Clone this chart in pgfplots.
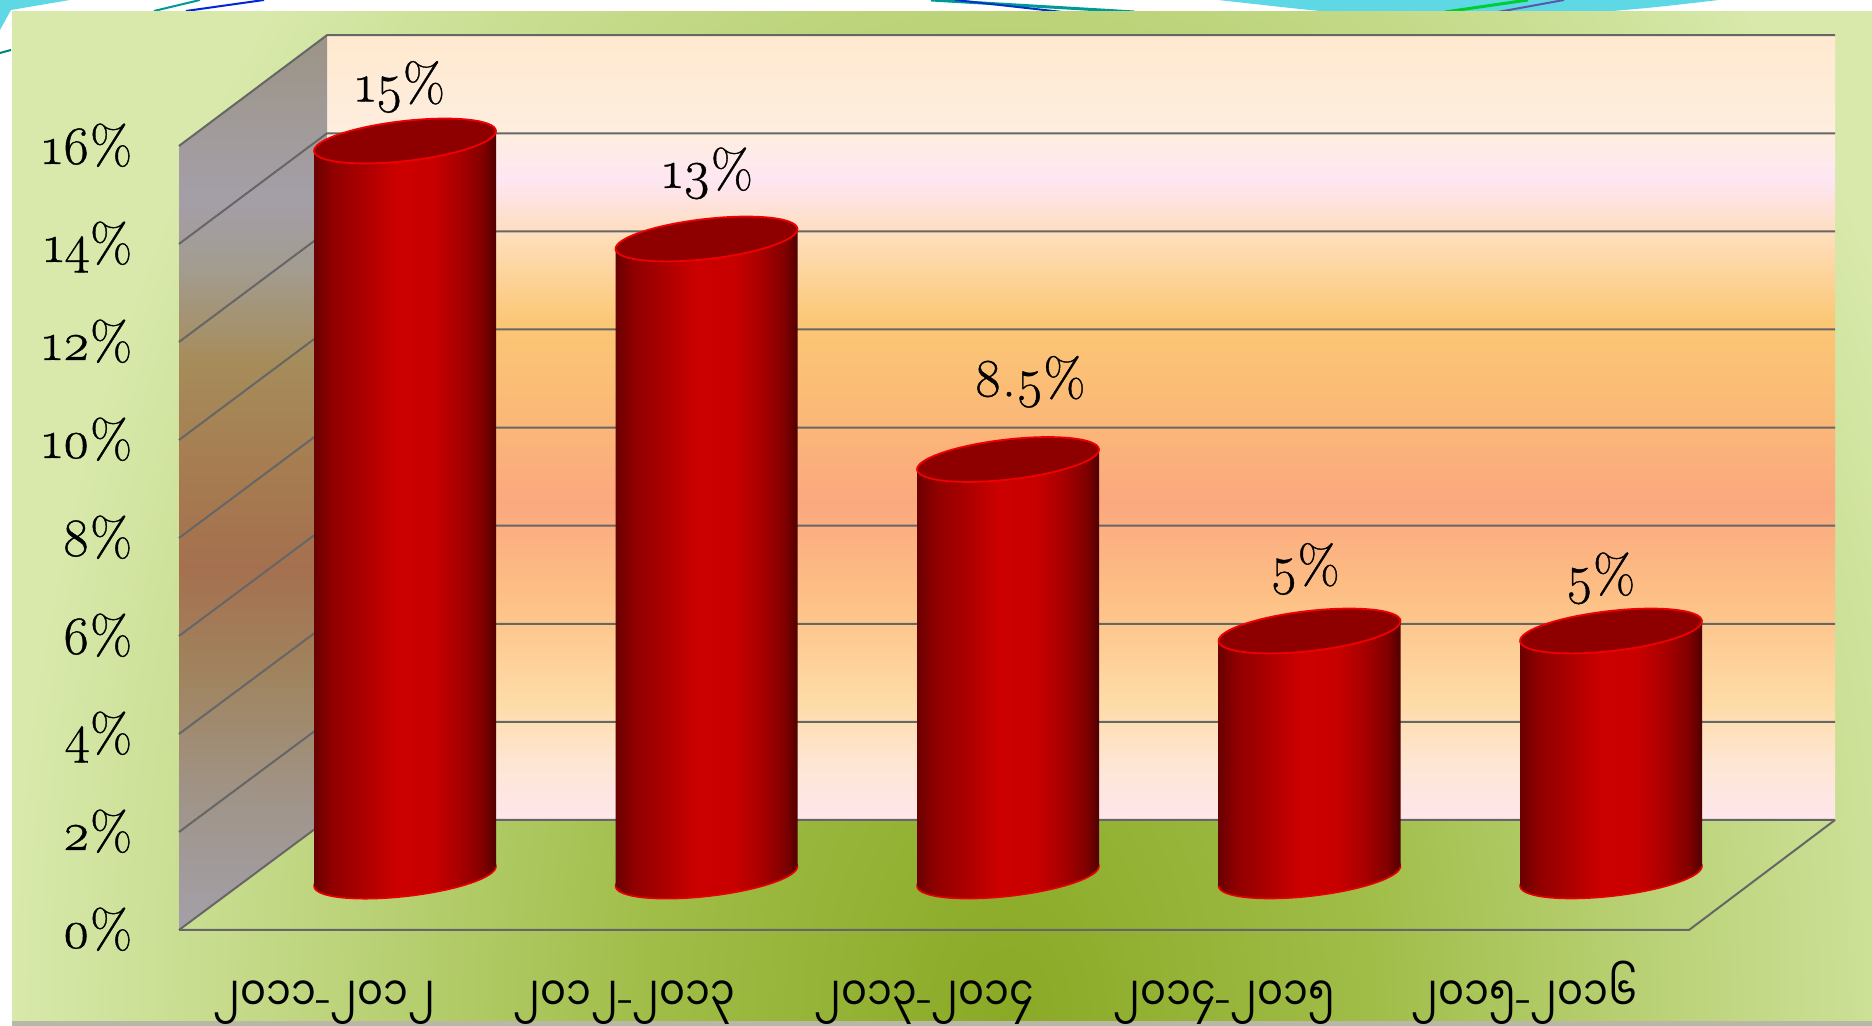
\documentclass[border=0pt]{standalone}
\usepackage{fontspec}
\usepackage{pgfplots}
\usepackage{pgfplotstable}
\pgfplotsset{compat=1.18}
\setmainfont{Latin Modern Roman}[Numbers=OldStyle,FakeBold=0.7]
\newfontfamily\my[Script=Myanmar,FakeStretch=0.83]{Noto Sans Myanmar UI}
\newcommand\yr[2]{{\my #1}-{\my #2}}
\definecolor{wa}{HTML}{FEE6EC}\definecolor{wb}{HTML}{FEE6D4}\definecolor{wc}{HTML}{FEDCA8}
\definecolor{wd}{HTML}{FDC085}\definecolor{we}{HTML}{FBA87F}\definecolor{wf}{HTML}{FBB877}
\definecolor{wg}{HTML}{FBC775}\definecolor{wh}{HTML}{FEDDB8}\definecolor{wi}{HTML}{FEE6F3}
\definecolor{wj}{HTML}{FEEEDF}\definecolor{wk}{HTML}{FFE9CF}
\pgfdeclareverticalshading{wall}{100bp}{color(0bp)=(wa);color(25bp)=(wa);color(28.6bp)=(wb);color(32.4bp)=(wc);color(39.2bp)=(wd);color(45.3bp)=(we);color(50.6bp)=(wf);color(56.7bp)=(wg);color(62bp)=(wh);color(65.8bp)=(wi);color(68.7bp)=(wj);color(75bp)=(wk);color(100bp)=(wk)}
\definecolor{sa}{HTML}{A3A0AA}\definecolor{sb}{HTML}{A09488}\definecolor{sc}{HTML}{A0845F}
\definecolor{sd}{HTML}{A5704F}\definecolor{se}{HTML}{A67C50}\definecolor{sf}{HTML}{A68C5A}
\definecolor{sg}{HTML}{A39C90}\definecolor{sh}{HTML}{A49EA8}\definecolor{si}{HTML}{A29C9E}\definecolor{sj}{HTML}{9C9485}
\pgfdeclareverticalshading{side}{100bp}{color(0bp)=(sa);color(25bp)=(sa);color(32.4bp)=(sb);color(39.2bp)=(sc);color(45.3bp)=(sd);color(50.6bp)=(se);color(56.7bp)=(sf);color(62bp)=(sg);color(65.8bp)=(sh);color(68.7bp)=(si);color(75bp)=(sj);color(100bp)=(sj)}
\definecolor{ca}{HTML}{6A0000}\definecolor{cb}{HTML}{900000}\definecolor{cc}{HTML}{A80000}
\definecolor{cd}{HTML}{CC0000}\definecolor{ce}{HTML}{C80000}\definecolor{cf}{HTML}{800000}\definecolor{cg}{HTML}{500000}
\definecolor{rima}{HTML}{E80000}\definecolor{rimb}{HTML}{F00000}\definecolor{capc}{HTML}{8E0000}
\definecolor{blob}{HTML}{5FD8E6}
\pgfdeclarehorizontalshading{cyl}{100bp}{color(0bp)=(ca);color(25bp)=(ca);color(30bp)=(cb);color(37.5bp)=(cc);color(47.5bp)=(cd);color(57.5bp)=(ce);color(65bp)=(cc);color(71.5bp)=(cf);color(75bp)=(cg);color(100bp)=(cg)}
\definecolor{pa}{HTML}{8AA925}\definecolor{pb}{HTML}{A0BD48}\definecolor{pc}{HTML}{BDD47C}\definecolor{pd}{HTML}{D8E9AB}
\pgfdeclareradialshading{panel}{\pgfpoint{0bp}{0bp}}{color(0bp)=(pa);color(9bp)=(pb);color(17bp)=(pc);color(25bp)=(pd);color(50bp)=(pd)}
\pgfdeclareplotmark{cyl}{%
  \pgfmathsetmacro\cylh{\cylv*24.51}%
  % base
  \begin{pgfscope}
  \pgfpathellipse{\pgfpoint{0pt}{-\cylh pt}}{\pgfpoint{45.46pt}{5.18pt}}{\pgfpoint{-1.13pt}{9.94pt}}%
  \pgfshadepath{cyl}{0}\pgfusepath{discard}%
  \pgfpathellipse{\pgfpoint{0pt}{-\cylh pt}}{\pgfpoint{45.46pt}{5.18pt}}{\pgfpoint{-1.13pt}{9.94pt}}%
  \pgfsetstrokecolor{rima}\pgfsetlinewidth{0.8pt}\pgfusepath{stroke}%
  \end{pgfscope}
  % body
  \begin{pgfscope}
  \pgfpathmoveto{\pgfpoint{-45.5pt}{-4.9pt}}%
  \pgfpathlineto{\pgfpoint{45.5pt}{4.9pt}}%
  \pgfpathlineto{\pgfpoint{45.5pt}{-\cylh pt+4.9pt}}%
  \pgfpathlineto{\pgfpoint{-45.5pt}{-\cylh pt-4.9pt}}%
  \pgfpathclose
  \pgfshadepath{cyl}{0}\pgfusepath{discard}%
  \end{pgfscope}
  % top
  \begin{pgfscope}
  \pgfpathellipse{\pgfpoint{0pt}{0pt}}{\pgfpoint{45.46pt}{5.18pt}}{\pgfpoint{-1.13pt}{9.94pt}}%
  \pgfsetfillcolor{capc}\pgfsetstrokecolor{rimb}\pgfsetlinewidth{0.9pt}\pgfusepath{fill,stroke}%
  \end{pgfscope}
}
\pgfplotstableread{
i v
0 15
1 13
2 8.5
3 5
4 5
}\shares
\begin{document}
\begin{tikzpicture}[x=0.5pt,y=0.5pt]
\useasboundingbox (0,0) rectangle (1872,1026);
\clip (0,0) rectangle (1872,1026);
\fill[white] (0,0) rectangle (1872,1026);
% page decoration behind the panel
\fill[blob] (0,1026) -- (70,1026) -- (11,1016) -- (0,996) -- cycle;
\fill[blob] (1218,1026) .. controls (1290,1018) .. (1349,1012) -- (1576,1012) .. controls (1650,1018) .. (1719,1026) -- cycle;
\draw[teal!80!cyan,line width=1.5pt] (931,1026) -- (1134,1014);
\draw[blue!60!teal,line width=1pt] (955,1026) -- (1062,1014);
\draw[green!60!teal,line width=1.5pt] (1528,1026) -- (1445,1014);
\draw[blue!30!gray,line width=1pt] (1564,1026) -- (1498,1014);
\draw[teal!80!cyan,line width=1pt] (154,1015) -- (200,1026);
\draw[blue!70!teal,line width=1pt] (186,1015) -- (264,1026);
\draw[teal,line width=1pt] (0,973) -- (11,976);
% panel
\fill[black!35!white!90!yellow] (12,0) rectangle (1872,8);
\begin{scope}
\clip (12,5) rectangle (1872,1014);
\shade[shading=panel] (9,-1490) rectangle (2009,1510);
\end{scope}
% walls
\shade[shading=wall] (327,206) rectangle (1835,991);
\shade[shading=side,yslant=0.75] (179,-38) rectangle (327,746);
% grid
\foreach \k in {0,...,8}{
  \draw[line width=1pt,color=black!60] (179,96+98*\k) -- (327,206+98.1*\k) -- (1835,206+98.1*\k);
}
\draw[line width=1pt,color=black!60] (179,96) -- (1689,96) -- (1835,206);
% value axis and category labels on the front plane
\begin{axis}[at={(89.5pt,48pt)},anchor=south west,scale only axis,width=755pt,height=392pt,
  xmin=-0.485,xmax=4.548,ymin=0,ymax=16,clip=false,
  axis line style={draw=none},tick style={draw=none},
  ytick={0,2,...,16},xtick={0,1,2,3,4},
  xticklabels={{\yr{၂၀၁၁}{၂၀၁၂}},{\yr{၂၀၁၂}{၂၀၁၃}},{\yr{၂၀၁၃}{၂၀၁၄}},{\yr{၂၀၁၄}{၂၀၁၅}},{\yr{၂၀၁၅}{၂၀၁၆}}},
  xticklabel style={font=\fontsize{24}{28}\selectfont,anchor=base,yshift=-41pt},
  yticklabel={\pgfmathprintnumber{\tick}\%},
  /pgf/number format/assume math mode=true,
  yticklabel style={font=\fontsize{27}{30}\selectfont,anchor=base east,xshift=-20pt,yshift=-9pt},
]
\addplot[draw=none] coordinates {(0,0) (4,16)};
\end{axis}
% bars
\begin{axis}[at={(127.125pt,75pt)},anchor=south west,scale only axis,width=753.75pt,height=392pt,
  xmin=-0.5,xmax=4.5,ymin=0,ymax=16,clip=false,hide axis]
\addplot[ybar,bar width=60pt,fill=red!75!black,draw=none] table[x=i,y=v] {\shares};
\addplot[scatter,only marks,mark=cyl,visualization depends on={\thisrow{v} \as \cylv}] table[x=i,y=v] {\shares};
\tikzset{lbl/.style={font=\fontsize{27}{30}\selectfont,inner sep=0pt}}
\node[lbl,xshift=-2.4pt,yshift=27pt] at (axis cs:0,15) {15\%};
\node[lbl,xshift=0.6pt,yshift=32.8pt] at (axis cs:1,13) {13\%};
\node[lbl,xshift=10.7pt,yshift=38.8pt] at (axis cs:2,8.5) {8.5\%};
\node[lbl,xshift=-2.4pt,yshift=31pt] at (axis cs:3,5) {5\%};
\node[lbl,xshift=-5.4pt,yshift=26.3pt] at (axis cs:4,5) {5\%};
\end{axis}
\end{tikzpicture}
\end{document}
